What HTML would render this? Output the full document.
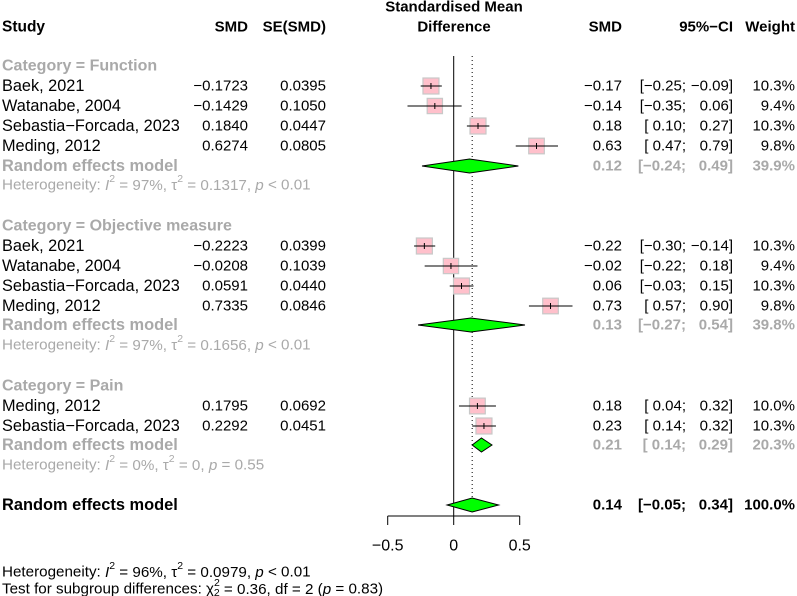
<!DOCTYPE html>
<html><head><meta charset="utf-8"><style>
body{margin:0;background:#fff}
svg{display:block;font-family:"Liberation Sans",Arial,sans-serif}
</style></head><body>
<svg id="fp" width="797" height="596" viewBox="0 0 797 596" xmlns="http://www.w3.org/2000/svg"></svg>
<script>
const studies=["Baek, 2021","Watanabe, 2004","Sebastia\u2212Forcada, 2023","Meding, 2012","Baek, 2021","Watanabe, 2004","Sebastia\u2212Forcada, 2023","Meding, 2012","Meding, 2012","Sebastia\u2212Forcada, 2023"];
const smd=[-0.1723,-0.1429,0.1840,0.6274,-0.2223,-0.0208,0.0591,0.7335,0.1795,0.2292];
const se=[0.0395,0.1050,0.0447,0.0805,0.0399,0.1039,0.0440,0.0846,0.0692,0.0451];
const lower=[-0.25,-0.35,0.10,0.47,-0.30,-0.22,-0.03,0.57,0.04,0.14];
const upper=[-0.09,0.06,0.27,0.79,-0.14,0.18,0.15,0.90,0.32,0.32];
const weight=[10.3,9.4,10.3,9.8,10.3,9.4,10.3,9.8,10.0,10.3];
const rowY=[86,106,126,146,246,266,286,306,406,426];
const groups=["Category = Function","Category = Objective measure","Category = Pain"];
const groupY=[66,226,386];
const reEst=[0.12,0.13,0.21];
const reLo=[-0.24,-0.27,0.14];
const reHi=[0.49,0.54,0.29];
const reW=[39.9,39.8,20.3];
const reY=[166,325,445];
const hetI2=["97%","97%","0%"];
const hetTau=["0.1317","0.1656","0"];
const hetP=["< 0.01","< 0.01","= 0.55"];
const hetY=[185,345,465];
const overall={est:0.14,lo:-0.05,hi:0.34,w:"100.0%",y:505};
const ticks=[-0.5,0,0.5];
const tickLabels=["\u22120.5","0","0.5"];

const X=v=>453.7+v*132;
const svg=document.getElementById('fp');
const NS="http://www.w3.org/2000/svg";
function el(tag,at,txt){const e=document.createElementNS(NS,tag);for(const k in at)e.setAttribute(k,at[k]);if(txt!=null)e.textContent=txt;svg.appendChild(e);return e;}
const fmt=(v,d)=>(v<0?"\u2212":"")+Math.abs(v).toFixed(d);
function txt(x,y,s,o,name){const e=el('text',Object.assign({x:x,y:y,'font-size':15,'dominant-baseline':'central',fill:'#000'},o||{}),s);return e;}
function ciText(y,est,lo,hi,w,col,bold,name){
  const o={fill:col,'xml:space':'preserve'};if(bold)o['font-weight']='bold';
  txt(622,y,fmt(est,2),Object.assign({'text-anchor':'end'},o),name+'-smd');
  txt(686,y,(lo<0?"[\u2212":"[ ")+Math.abs(lo).toFixed(2)+";",Object.assign({'text-anchor':'end'},o),name+'-ci-lower');
  txt(733,y,(hi<0?"\u2212":"")+Math.abs(hi).toFixed(2)+"]",Object.assign({'text-anchor':'end'},o),name+'-ci-upper');
  txt(795,y,w,Object.assign({'text-anchor':'end'},o),name+'-weight');
}
function het(x,y,i2,tau,p,col,name){
  const h=el('text',{x:x,y:y,'font-size':15.2,'dominant-baseline':'central',fill:col});
  
  h.innerHTML='Heterogeneity: <tspan font-style="italic">I</tspan><tspan dy="-6" font-size="10.5">2</tspan><tspan dy="6"> = '+i2+', \u03c4</tspan><tspan dy="-6" font-size="10.5">2</tspan><tspan dy="6"> = '+tau+', </tspan><tspan font-style="italic">p</tspan> '+p.replace('<','&lt;');
}
// headers
txt(2,27,"Study",{'font-weight':'bold','font-size':15.5},'study-header');
txt(248,27,"SMD",{'font-weight':'bold','text-anchor':'end'},'smd-header');
txt(326,27,"SE(SMD)",{'font-weight':'bold','text-anchor':'end'},'se-header');
txt(454,7,"Standardised Mean",{'font-weight':'bold','text-anchor':'middle'},'plot-title-line1');
txt(454,27,"Difference",{'font-weight':'bold','text-anchor':'middle'},'plot-title-line2');
txt(622,27,"SMD",{'font-weight':'bold','text-anchor':'end'},'smd-right-header');
txt(733,27,"95%\u2212CI",{'font-weight':'bold','text-anchor':'end'},'ci-header');
txt(795,27,"Weight",{'font-weight':'bold','text-anchor':'end'},'weight-header');
// reference lines
let l=el('line',{x1:X(0),x2:X(0),y1:56,y2:516,stroke:'#000','stroke-width':1});

l=el('line',{x1:X(overall.est),x2:X(overall.est),y1:56,y2:500,stroke:'#000','stroke-width':1,'stroke-dasharray':'1,3'});

// groups
groups.forEach((g,i)=>{
  txt(2,groupY[i],g,{'font-weight':'bold',fill:'#a9a9a9','font-size':16},'group-heading');
  txt(2,reY[i],"Random effects model",{'font-weight':'bold',fill:'#a9a9a9','font-size':16.4},'subgroup-re-label');
  het(2,hetY[i],hetI2[i],hetTau[i],hetP[i],'#a9a9a9','subgroup-heterogeneity');
  ciText(reY[i],reEst[i],reLo[i],reHi[i],reW[i].toFixed(1)+"%",'#a9a9a9',true,'subgroup-re');
  const d=el('polygon',{points:`${X(reLo[i])},${reY[i]} ${X(reEst[i])},${reY[i]-7} ${X(reHi[i])},${reY[i]} ${X(reEst[i])},${reY[i]+7}`,fill:'#00ff00',stroke:'#000','stroke-width':1});
  
});
// studies
studies.forEach((s,i)=>{
  const y=rowY[i];
  txt(2,y,s,{'font-size':16.3},'study-name');
  txt(248,y,fmt(smd[i],4),{'text-anchor':'end'},'study-smd');
  txt(326,y,se[i].toFixed(4),{'text-anchor':'end'},'study-se');
  ciText(y,smd[i],lower[i],upper[i],weight[i].toFixed(1)+"%",'#000',false,'study');
  const sz=16*Math.sqrt(weight[i]/10.3);
  const r=el('rect',{x:X(smd[i])-sz/2,y:y-sz/2,width:sz,height:sz,fill:'#ffc0cb',stroke:'#c8c8c8','stroke-width':1.2});
  
  const c=el('line',{x1:X(lower[i]),x2:X(upper[i]),y1:y,y2:y,stroke:'#000','stroke-width':1});
  
  const t=el('line',{x1:X(smd[i]),x2:X(smd[i]),y1:y-3,y2:y+3,stroke:'#000','stroke-width':1});
  
});
// overall
txt(2,overall.y,"Random effects model",{'font-weight':'bold','font-size':16.4},'overall-re-label');
ciText(overall.y,overall.est,overall.lo,overall.hi,overall.w,'#000',true,'overall');
const od=el('polygon',{points:`${X(overall.lo)},${overall.y} ${X(overall.est)},${overall.y-7} ${X(overall.hi)},${overall.y} ${X(overall.est)},${overall.y+7}`,fill:'#00ff00',stroke:'#000','stroke-width':1});

// axis
const ax=el('line',{x1:X(ticks[0]),x2:X(ticks[ticks.length-1]),y1:516,y2:516,stroke:'#000','stroke-width':1});

ticks.forEach((t,i)=>{
  const tk=el('line',{x1:X(t),x2:X(t),y1:516,y2:525,stroke:'#000','stroke-width':1});
  
  txt(X(t),546,tickLabels[i],{'text-anchor':'middle','font-size':16},'x-tick-label');
});
// bottom text
het(2,572,"96%","0.0979","< 0.01",'#000','overall-heterogeneity');
const h=el('text',{x:2,y:589,'font-size':15.2,'dominant-baseline':'central'});

h.innerHTML='Test for subgroup differences: \u03c7<tspan dy="-6" font-size="10.5">2</tspan><tspan dx="-6" dy="10" font-size="10.5">2</tspan><tspan dy="-4"> = 0.36, df = 2 (</tspan><tspan font-style="italic">p</tspan> = 0.83)';
</script>
</body></html>
